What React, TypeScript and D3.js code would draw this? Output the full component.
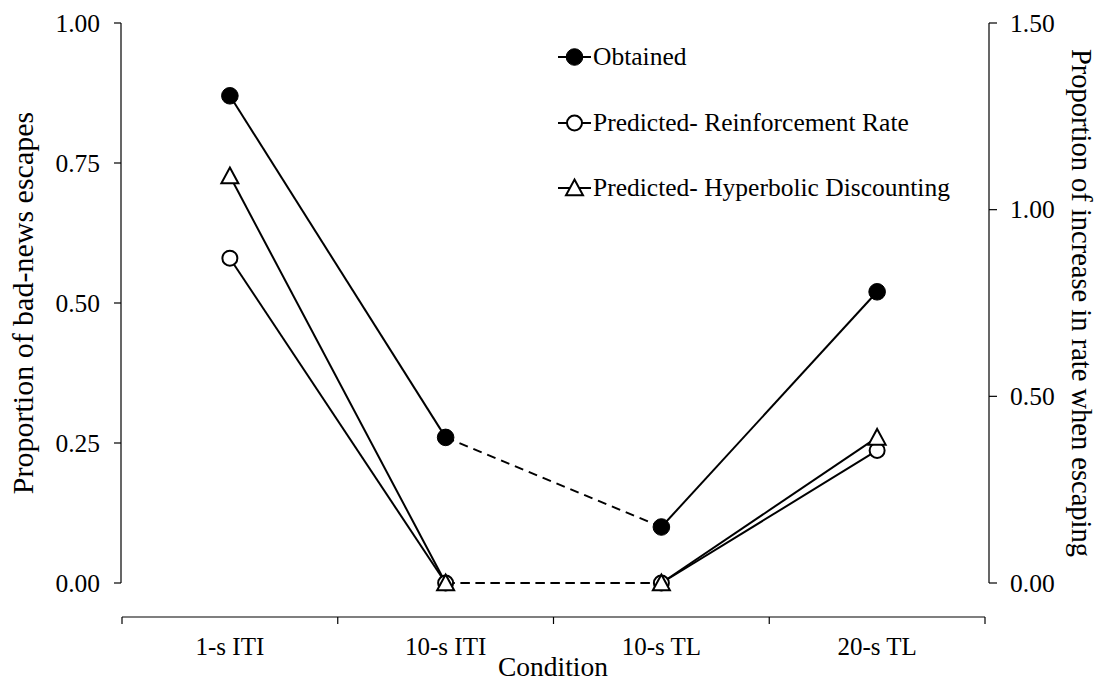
import React from "react";
import * as d3 from "d3";

const categories = ["1-s ITI", "10-s ITI", "10-s TL", "20-s TL"];
const obtained = [0.87, 0.26, 0.1, 0.52]; // left axis
const predReinforcement = [0.87, 0, 0, 0.355]; // right axis
const predHyperbolic = [1.09, 0, 0, 0.39]; // right axis
const leftTicks = [0, 0.25, 0.5, 0.75, 1.0];
const rightTicks = [0, 0.5, 1.0, 1.5];
const segmentDashed = [false, true, false];

const W = 1103;
const H = 683;
const FONT = "'Liberation Serif', 'Times New Roman', serif";

export default function App() {
  const x = d3.scaleBand<string>().domain(categories).range([122, 985]).padding(0);
  const yL = d3.scaleLinear().domain([0, 1]).range([583, 23]);
  const yR = d3.scaleLinear().domain([0, 1.5]).range([583, 23]);
  const cx = (c: string) => (x(c) as number) + x.bandwidth() / 2;

  const series = [
    { name: "Obtained", values: obtained, y: yL, marker: "filled" },
    { name: "Predicted- Reinforcement Rate", values: predReinforcement, y: yR, marker: "circle" },
    { name: "Predicted- Hyperbolic Discounting", values: predHyperbolic, y: yR, marker: "triangle" },
  ];

  const triPath = (px: number, py: number) => {
    const s = 8.5;
    return `M${px},${py - s}L${px + s},${py + s * 0.85}L${px - s},${py + s * 0.85}Z`;
  };

  const marker = (kind: string, px: number, py: number, key: string) => {
    if (kind === "filled")
      return <circle key={key} cx={px} cy={py} r={8.3} fill="#000" stroke="#000" strokeWidth={1} />;
    if (kind === "circle")
      return <circle key={key} cx={px} cy={py} r={7.5} fill="#fff" stroke="#000" strokeWidth={2} />;
    return <path key={key} d={triPath(px, py)} fill="#fff" stroke="#000" strokeWidth={2} strokeLinejoin="miter" />;
  };

  const xTickPos = [...categories.map((c) => x(c) as number), 985];
  const legendX = 558;
  const legendY = [57, 123, 188];

  return (
    <div style={{ position: "absolute", left: 0, top: 0 }}>
      <svg width={W} height={H} style={{ display: "block", background: "#fff" }} fontFamily={FONT}>
        <rect width={W} height={H} fill="#fff" />
        {/* left axis */}
        <line x1={121} x2={121} y1={yL(1)} y2={yL(0)} stroke="#000" strokeWidth={1.2} />
        {leftTicks.map((t) => (
          <g key={"l" + t}>
            <line x1={114} x2={121} y1={yL(t)} y2={yL(t)} stroke="#000" strokeWidth={1.2} />
            <text x={100} y={yL(t) + 8.5} textAnchor="end" fontSize={25.5}>
              {t.toFixed(2)}
            </text>
          </g>
        ))}
        {/* right axis */}
        <line x1={989} x2={989} y1={yR(1.5)} y2={yR(0)} stroke="#000" strokeWidth={1.2} />
        {rightTicks.map((t) => (
          <g key={"r" + t}>
            <line x1={989} x2={997} y1={yR(t)} y2={yR(t)} stroke="#000" strokeWidth={1.2} />
            <text x={1010} y={yR(t) + 8.5} textAnchor="start" fontSize={25.5}>
              {t.toFixed(2)}
            </text>
          </g>
        ))}
        {/* x axis */}
        <line x1={122} x2={985} y1={617} y2={617} stroke="#000" strokeWidth={1.2} />
        {xTickPos.map((p, i) => (
          <line key={"xt" + i} x1={p} x2={p} y1={617} y2={624} stroke="#000" strokeWidth={1.2} />
        ))}
        {categories.map((c) => (
          <text key={c} x={cx(c)} y={655} textAnchor="middle" fontSize={25}>
            {c}
          </text>
        ))}
        <text x={553} y={676} textAnchor="middle" fontSize={27.5}>
          Condition
        </text>
        {/* axis titles */}
        <text transform={`translate(33,303) rotate(-90)`} textAnchor="middle" fontSize={30}>
          Proportion of bad-news escapes
        </text>
        <text transform={`translate(1072,303) rotate(90)`} textAnchor="middle" fontSize={28.5}>
          Proportion of increase in rate when escaping
        </text>
        {/* lines */}
        {series.map((s) =>
          s.values.slice(0, -1).map((v, i) => (
            <line
              key={s.name + "seg" + i}
              x1={cx(categories[i])}
              y1={s.y(v)}
              x2={cx(categories[i + 1])}
              y2={s.y(s.values[i + 1])}
              stroke="#000"
              strokeWidth={2}
              strokeDasharray={segmentDashed[i] ? "9,6" : undefined}
            />
          ))
        )}
        {/* markers */}
        {series.map((s) => s.values.map((v, i) => marker(s.marker, cx(categories[i]), s.y(v), s.name + i)))}
        {/* legend */}
        {series.map((s, i) => (
          <g key={"lg" + i}>
            <line x1={legendX} x2={legendX + 33} y1={legendY[i]} y2={legendY[i]} stroke="#000" strokeWidth={2} />
            {marker(s.marker, legendX + 16.5, legendY[i], "lgm" + i)}
            <text x={legendX + 35} y={legendY[i] + 8} fontSize={25.5}>
              {s.name}
            </text>
          </g>
        ))}
      </svg>
    </div>
  );
}
